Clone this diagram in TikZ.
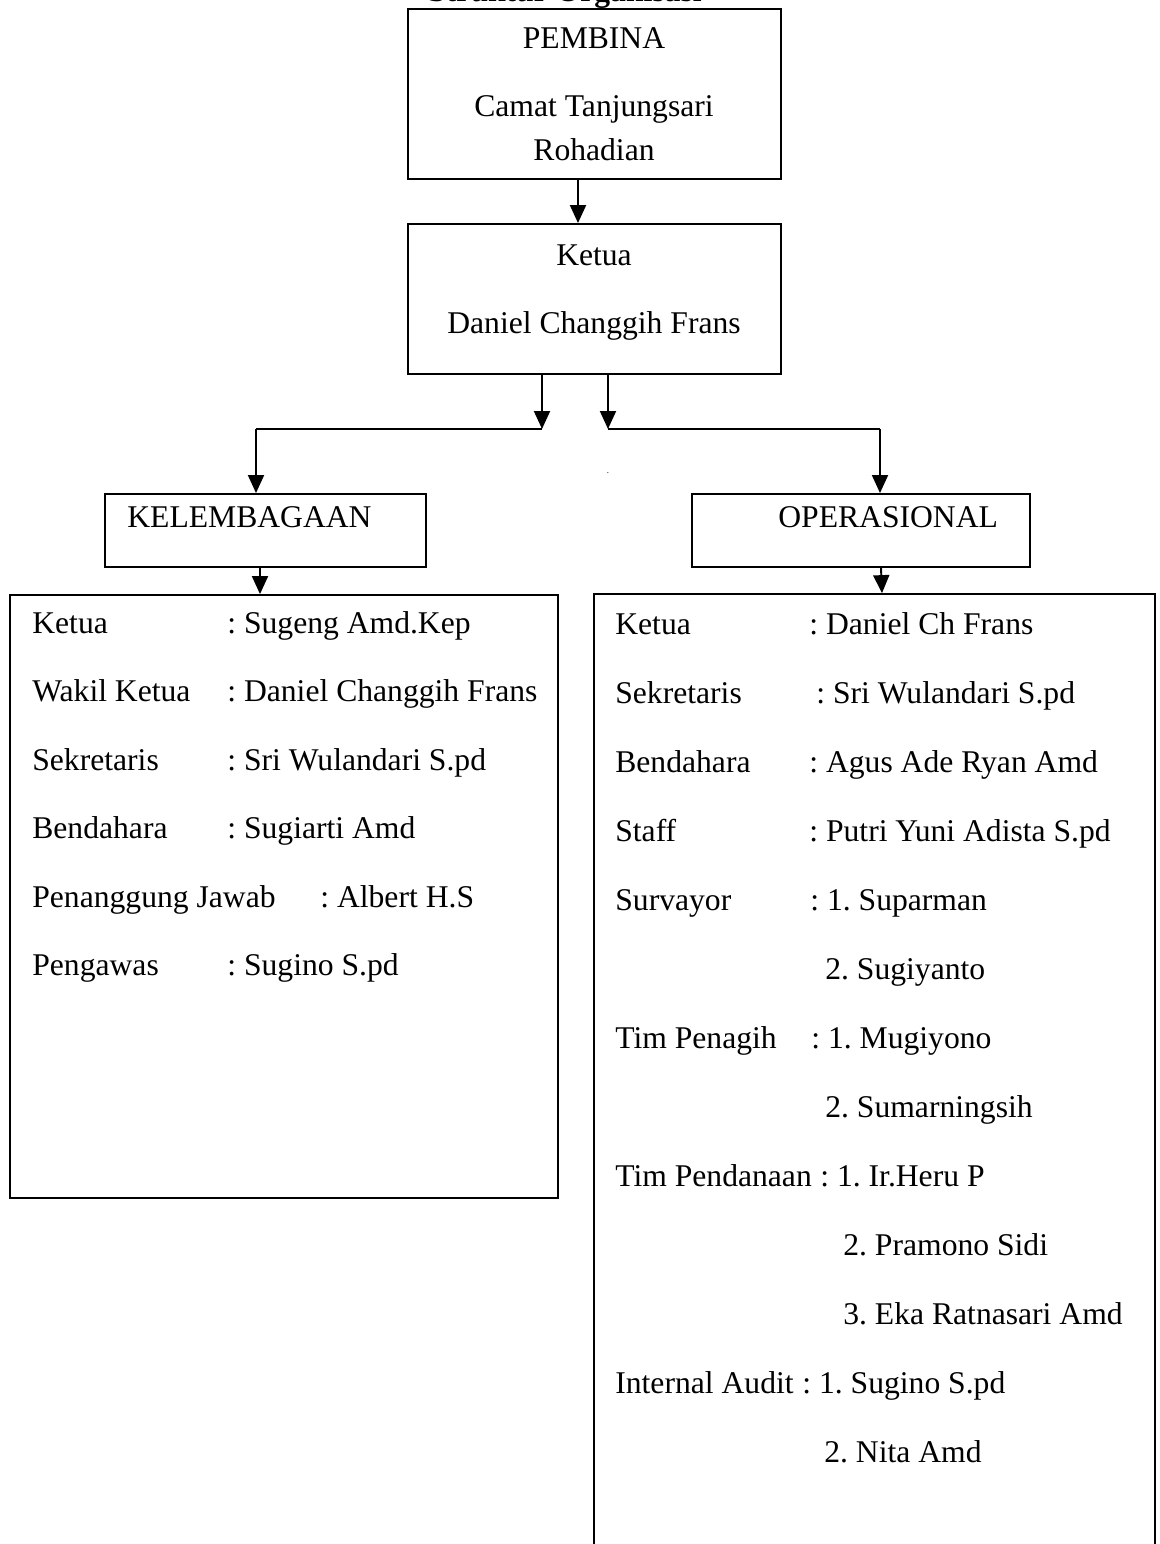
\documentclass[tikz,border=0pt]{standalone}
\usepackage{fontspec}
\setmainfont{Liberation Serif}
\usepackage{tikz}
\usetikzlibrary{arrows.meta,positioning}
\frenchspacing
\tikzset{
  kotak/.style={draw,line width=1.1pt,inner sep=0pt},
  tulis/.style={font=\fontsize{18}{22}\selectfont,inner sep=0pt,anchor=base},
  baris/.style={tulis,anchor=base west},
  arr/.style={-{Triangle[length=3.6mm,width=3.2mm]},line width=1.1pt},
  garis/.style={line width=1.1pt},
}
\begin{document}
\begin{tikzpicture}[x=0.02cm,y=-0.02cm]
\useasboundingbox (0,0) rectangle (1159,1544);
\node[tulis,font=\fontsize{18}{22}\selectfont\bfseries] (judul) at (565,2) {Struktur Organisasi};
% kotak atas
\node[kotak,minimum width=7.46cm,minimum height=3.4cm] (pembina) at (594.5,94) {};
\node[tulis] (tpembina) at (594,49) {PEMBINA};
\node[tulis] (tcamat) at (594,117) {Camat Tanjungsari};
\node[tulis] (trohadian) at (594,161) {Rohadian};
\node[kotak,minimum width=7.46cm,minimum height=3cm] (ketua) at (594.5,299) {};
\node[tulis] (tketua) at (594,265) {Ketua};
\node[tulis] (tdaniel) at (594,333) {Daniel Changgih Frans};
% cabang
\node[kotak,minimum width=6.42cm,minimum height=1.46cm] (kel) at (265.5,530.5) {};
\node[baris] (tkel) at (127,527) {KELEMBAGAAN};
\node[kotak,minimum width=6.76cm,minimum height=1.46cm] (ops) at (861,530.5) {};
\node[baris] (tops) at (778,527) {OPERASIONAL};
\node[tulis,font=\tiny] (titik) at (608,473) {.};
% kotak daftar
\node[kotak,minimum width=10.96cm,minimum height=12.06cm] (dkel) at (284,896.5) {};
\node[kotak,minimum width=11.22cm,minimum height=19.32cm] (dops) at (874.5,1077) {};
\foreach \i/\lbl/\cx/\val in {
  1/Ketua/227/{: Sugeng Amd.Kep},
  2/Wakil Ketua/227/{: Daniel Changgih Frans},
  3/Sekretaris/227/{: Sri Wulandari S.pd},
  4/Bendahara/227/{: Sugiarti Amd},
  5/Penanggung Jawab/320/{: Albert H.S},
  6/Pengawas/227/{: Sugino S.pd}}
{
  \node[baris] (kl\i) at (32,{633+68.5*(\i-1)}) {\lbl};
  \node[baris] (kv\i) at (\cx,{633+68.5*(\i-1)}) {\val};
}
\foreach \i/\lbl/\cx/\val in {
  1/Ketua/809/{: Daniel Ch Frans},
  2/Sekretaris/816/{: Sri Wulandari S.pd},
  3/Bendahara/809/{: Agus Ade Ryan Amd},
  4/Staff/809/{: Putri Yuni Adista S.pd},
  5/Survayor/810/{: 1. Suparman},
  6/{}/825/{2. Sugiyanto},
  7/Tim Penagih/811/{: 1. Mugiyono},
  8/{}/825/{2. Sumarningsih},
  9/Tim Pendanaan/820/{: 1. Ir.Heru P},
  10/{}/843/{2. Pramono Sidi},
  11/{}/843/{3. Eka Ratnasari Amd},
  12/Internal Audit/802/{: 1. Sugino S.pd},
  13/{}/824/{2. Nita Amd}}
{
  \node[baris] (ol\i) at (615,{634+69*(\i-1)}) {\lbl};
  \node[baris] (ov\i) at (\cx,{634+69*(\i-1)}) {\val};
}
% panah
\coordinate (jl) at (542,429);
\coordinate (jr) at (608,429);
\draw[arr] (pembina.south -| 578,0) -- (ketua.north -| 578,0);
\draw[arr] (ketua.south -| jl) -- (jl);
\draw[arr] (ketua.south -| jr) -- (jr);
\draw[garis] (jl) -- (256,429) coordinate (kl);
\draw[arr] (kl) -- (kel.north -| kl);
\draw[garis] (jr) -- (880,429) coordinate (kr);
\draw[arr] (kr) -- (ops.north -| kr);
\draw[arr] (kel.south -| 260,0) -- (dkel.north -| 260,0);
\draw[arr] (ops.south -| 881,0) -- (dops.north -| 882,0);
\end{tikzpicture}
\end{document}
